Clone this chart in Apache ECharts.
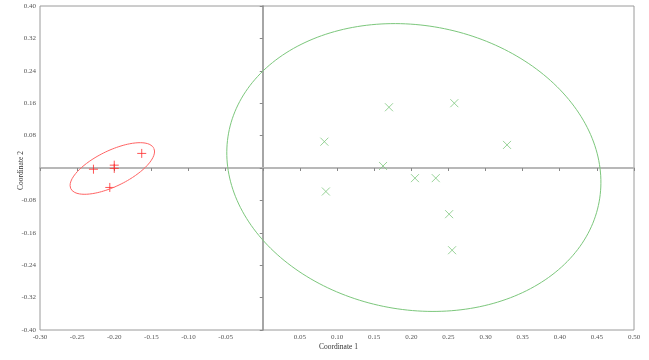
<!DOCTYPE html>
<html>
<head>
<meta charset="utf-8">
<script src="https://cdn.jsdelivr.net/npm/echarts@6/dist/echarts.min.js"></script>
<style>html,body{margin:0;padding:0;background:#fff}#c{width:649px;height:360px}</style>
</head>
<body>
<div id="c"></div>
<script>
// Group 1 (red, "+")
var redX = [-0.163, -0.228, -0.200, -0.200, -0.206];
var redY = [0.036, -0.003, 0.007, -0.001, -0.048];
// Group 2 (green, "x")
var greenX = [0.083, 0.085, 0.170, 0.258, 0.162, 0.329, 0.205, 0.233, 0.251, 0.255];
var greenY = [0.065, -0.058, 0.150, 0.160, 0.005, 0.057, -0.025, -0.025, -0.114, -0.203];
// 95% ellipses: centre, two conjugate semi-diameter vectors (data units)
var redEllipseCenter = [-0.2026, -0.0012];
var redEllipseU = [0.0559, 0.0500];
var redEllipseV = [0.0105, -0.0395];
var greenEllipseCenter = [0.2035, 0.0012];
var greenEllipseU = [0.2468, 0.0353];
var greenEllipseV = [-0.0506, 0.3536];
// Axis ranges / tick steps
var xRange = [-0.30, 0.50], xStep = 0.05;
var yRange = [-0.40, 0.40], yStep = 0.08;
var axisTitles = ['Coordinate 1', 'Coordinate 2'];

function pairs(xs, ys) { return xs.map(function (x, i) { return [x, ys[i]]; }); }
function ellipse(c, u, v) {
  var pts = [], n = 240;
  for (var i = 0; i <= n; i++) {
    var t = 2 * Math.PI * i / n;
    pts.push([c[0] + u[0] * Math.cos(t) + v[0] * Math.sin(t),
              c[1] + u[1] * Math.cos(t) + v[1] * Math.sin(t)]);
  }
  return pts;
}
var FONT = '"Liberation Serif", "Times New Roman", serif';
var fmt = function (v) { return Math.abs(v) < 1e-9 ? '' : v.toFixed(2); };

var chart = echarts.init(document.getElementById('c'), null, { renderer: 'canvas' });
chart.setOption({
  animation: false,
  backgroundColor: '#ffffff',
  grid: { left: 40, right: 15, top: 6, bottom: 30, show: true, borderColor: '#9a9a9a', borderWidth: 1, backgroundColor: 'transparent' },
  xAxis: {
    type: 'value', min: xRange[0], max: xRange[1], interval: xStep,
    axisLine: { onZero: true, lineStyle: { color: '#b8b8b8', width: 2 } },
    axisTick: { show: true, length: 3, lineStyle: { color: '#888' } },
    axisLabel: { formatter: fmt, fontFamily: FONT, fontSize: 7, color: '#555', margin: 4 },
    splitLine: { show: false }
  },
  yAxis: {
    type: 'value', min: yRange[0], max: yRange[1], interval: yStep,
    axisLine: { onZero: true, lineStyle: { color: '#888', width: 1.5 } },
    axisTick: { show: true, length: 3, lineStyle: { color: '#888' } },
    axisLabel: { formatter: fmt, fontFamily: FONT, fontSize: 7, color: '#555', margin: 4 },
    splitLine: { show: false }
  },
  graphic: [
    { type: 'text', left: 319, top: 343, style: { text: axisTitles[0], font: '7.5px ' + FONT, fill: '#333' } },
    { type: 'text', x: 17, y: 190, rotation: Math.PI / 2, style: { text: axisTitles[1], font: '7.5px ' + FONT, fill: '#333' } }
  ],
  series: [
    { type: 'line', data: ellipse(redEllipseCenter, redEllipseU, redEllipseV), showSymbol: false, silent: true,
      lineStyle: { color: '#ff6464', width: 1 } },
    { type: 'line', data: ellipse(greenEllipseCenter, greenEllipseU, greenEllipseV), showSymbol: false, silent: true,
      lineStyle: { color: '#7cc77c', width: 1 } },
    { type: 'scatter', data: pairs(redX, redY), symbol: 'path://M0,5L10,5M5,0L5,10', symbolSize: 9,
      itemStyle: { color: 'rgba(0,0,0,0)', borderColor: '#ff2a2a', borderWidth: 1 } },
    { type: 'scatter', data: pairs(greenX, greenY), symbol: 'path://M0,0L10,10M10,0L0,10', symbolSize: 8,
      itemStyle: { color: 'rgba(0,0,0,0)', borderColor: '#80c880', borderWidth: 1 } }
  ]
});
</script>
</body>
</html>
